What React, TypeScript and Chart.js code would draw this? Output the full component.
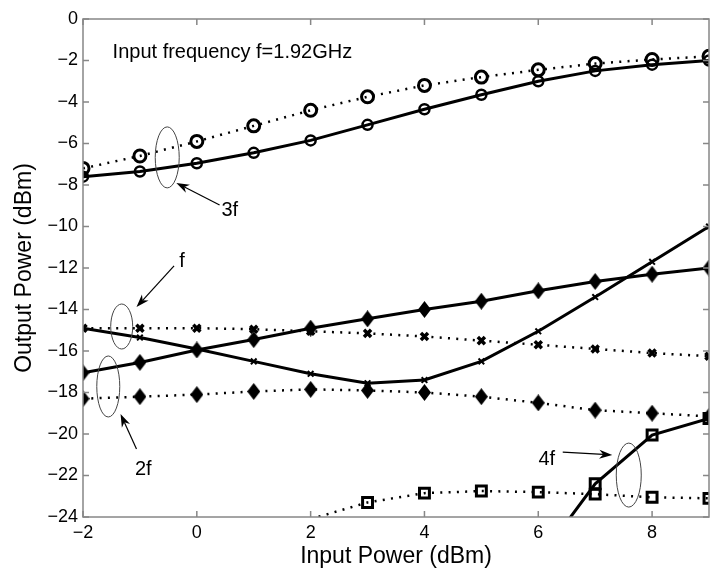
import { useEffect, useRef } from 'react';
import { Chart, registerables } from 'chart.js';

Chart.register(...registerables);

// ---- data ----
const inputPower = [-2, -1, 0, 1, 2, 3, 4, 5, 6, 7, 8, 9];
const thirdDotted = [-7.2, -6.6, -5.9, -5.15, -4.4, -3.75, -3.2, -2.8, -2.45, -2.15, -1.95, -1.8];
const thirdSolid = [-7.6, -7.35, -6.95, -6.45, -5.85, -5.1, -4.35, -3.65, -3.0, -2.5, -2.2, -2.0];
const fundDotted = [-14.9, -14.9, -14.9, -14.95, -15.05, -15.15, -15.3, -15.5, -15.7, -15.9, -16.1, -16.25];
const fundSolid = [-14.9, -15.35, -15.9, -16.5, -17.1, -17.55, -17.4, -16.5, -15.05, -13.4, -11.7, -10.0];
const secondSolid = [-17.05, -16.55, -15.95, -15.45, -14.9, -14.45, -14.0, -13.6, -13.1, -12.65, -12.3, -12.0];
const secondDotted = [-18.3, -18.2, -18.1, -17.95, -17.85, -17.9, -18.0, -18.2, -18.5, -18.85, -19.0, -19.15];
const fourthDottedX = [2, 3, 4, 5, 6, 7, 8, 9];
const fourthDotted = [-24.1, -23.3, -22.85, -22.75, -22.8, -22.9, -23.05, -23.1];
const fourthSolidX = [6, 7, 8, 9];
const fourthSolid = [-26.1, -22.4, -20.05, -19.25];

const xRange = [-2, 9];
const yRange = [-24, 0];
const xTicks = [-2, 0, 2, 4, 6, 8];
const yTicks = [0, -2, -4, -6, -8, -10, -12, -14, -16, -18, -20, -22, -24];

const xTitle = 'Input Power (dBm)';
const yTitle = 'Output Power (dBm)';
const noteText = 'Input frequency f=1.92GHz';
const noteAt = [-1.48, -1.59];

// annotation groups (data coordinates)
const groupNames = ['3f', 'f', '2f', '4f'];
const labelAt = [[0.58, -9.25], [-0.26, -11.71], [-0.94, -21.73], [6.15, -21.25]];
const ellipseAt = [[-0.52, -6.67], [-1.32, -14.82], [-1.556, -17.71], [7.59, -21.98]];
const ellipseSize = [[12, 30.5], [11, 22.5], [11.5, 30.5], [12.5, 32]];
const arrowFrom = [[0.40, -8.96], [-0.40, -11.90], [-1.06, -20.72], [6.43, -20.87]];
const arrowTo = [[-0.36, -7.90], [-1.06, -13.88], [-1.34, -19.04], [7.30, -21.01]];

const FONT = "'Liberation Sans', Arial, Helvetica, sans-serif";

function pts(xs: number[], ys: number[]) {
  return xs.map((x, i) => ({ x, y: ys[i] }));
}

function makeDiamond(w: number, h: number) {
  const c = document.createElement('canvas');
  c.width = w;
  c.height = h;
  const g = c.getContext('2d')!;
  g.fillStyle = '#000';
  g.beginPath();
  g.moveTo(w / 2, 0);
  g.lineTo(w, h / 2);
  g.lineTo(w / 2, h);
  g.lineTo(0, h / 2);
  g.closePath();
  g.fill();
  return c;
}

function drawArrow(ctx: CanvasRenderingContext2D, x0: number, y0: number, x1: number, y1: number) {
  const ang = Math.atan2(y1 - y0, x1 - x0);
  const L = 13;
  const W = 4.5;
  ctx.beginPath();
  ctx.moveTo(x0, y0);
  ctx.lineTo(x1 - Math.cos(ang) * L * 0.7, y1 - Math.sin(ang) * L * 0.7);
  ctx.stroke();
  ctx.save();
  ctx.translate(x1, y1);
  ctx.rotate(ang);
  ctx.beginPath();
  ctx.moveTo(0, 0);
  ctx.lineTo(-L, -W);
  ctx.lineTo(-L * 0.7, 0);
  ctx.lineTo(-L, W);
  ctx.closePath();
  ctx.fill();
  ctx.restore();
}

const decor = {
  id: 'decor',
  afterDatasetsDraw(chart: any) {
    const { ctx, chartArea: a, scales } = chart;
    const x = scales.x;
    const y = scales.y;
    const px = (v: number) => x.getPixelForValue(v);
    const py = (v: number) => y.getPixelForValue(v);
    ctx.save();
    // axes box and inward ticks
    ctx.strokeStyle = '#878787';
    ctx.lineWidth = 1.5;
    ctx.strokeRect(a.left, a.top, a.right - a.left, a.bottom - a.top);
    ctx.beginPath();
    for (const v of xTicks) {
      const p = px(v);
      ctx.moveTo(p, a.bottom);
      ctx.lineTo(p, a.bottom - 6);
      ctx.moveTo(p, a.top);
      ctx.lineTo(p, a.top + 6);
    }
    for (const v of yTicks) {
      const p = py(v);
      ctx.moveTo(a.left, p);
      ctx.lineTo(a.left + 6, p);
      ctx.moveTo(a.right, p);
      ctx.lineTo(a.right - 6, p);
    }
    ctx.stroke();

    // note text
    ctx.fillStyle = '#000';
    ctx.font = `20px ${FONT}`;
    ctx.textAlign = 'left';
    ctx.textBaseline = 'middle';
    ctx.fillText(noteText, px(noteAt[0]), py(noteAt[1]));

    // ellipses
    ctx.strokeStyle = '#444';
    ctx.lineWidth = 1;
    ellipseAt.forEach((e, i) => {
      ctx.beginPath();
      ctx.ellipse(px(e[0]), py(e[1]), ellipseSize[i][0], ellipseSize[i][1], 0, 0, Math.PI * 2);
      ctx.stroke();
    });

    // arrows
    ctx.strokeStyle = '#000';
    ctx.fillStyle = '#000';
    ctx.lineWidth = 1.2;
    arrowFrom.forEach((f, i) => {
      drawArrow(ctx, px(f[0]), py(f[1]), px(arrowTo[i][0]), py(arrowTo[i][1]));
    });

    // labels
    ctx.font = `20px ${FONT}`;
    ctx.textAlign = 'center';
    ctx.textBaseline = 'middle';
    groupNames.forEach((n, i) => {
      ctx.fillText(n, px(labelAt[i][0]), py(labelAt[i][1]));
    });
    ctx.restore();
  },
};

const fmt = (v: number) => (v < 0 ? '\u2212' + Math.abs(v) : String(v));

export default function App() {
  const ref = useRef<HTMLCanvasElement | null>(null);

  useEffect(() => {
    if (!ref.current) return;
    const diamond = makeDiamond(13, 17);
    const hideOut = (r: number) => (c: any) => {
      const v = c.raw && typeof c.raw.y === 'number' ? c.raw.y : 0;
      return v < yRange[0] || v > yRange[1] ? 0 : r;
    };
    const dotted = { borderColor: '#000', borderWidth: 2.5, borderDash: [2, 6.3], borderCapStyle: 'butt', tension: 0 };
    const solid = { borderColor: '#000', borderWidth: 3, tension: 0 };

    const chart = new Chart(ref.current, {
      type: 'line',
      data: {
        datasets: [
          { ...dotted, data: pts(inputPower, thirdDotted), pointStyle: 'circle', pointRadius: 6, pointBorderWidth: 3, pointBorderColor: '#000', pointBackgroundColor: 'rgba(0,0,0,0)' },
          { ...solid, data: pts(inputPower, thirdSolid), pointStyle: 'circle', pointRadius: 5, pointBorderWidth: 2.5, pointBorderColor: '#000', pointBackgroundColor: 'rgba(0,0,0,0)' },
          { ...dotted, data: pts(inputPower, fundDotted), pointStyle: 'crossRot', pointRadius: 5, pointBorderWidth: 3.5, pointBorderColor: '#000' },
          { ...solid, data: pts(inputPower, fundSolid), pointStyle: 'crossRot', pointRadius: 4, pointBorderWidth: 2, pointBorderColor: '#000' },
          { ...solid, data: pts(inputPower, secondSolid), pointStyle: diamond, pointRadius: 8 },
          { ...dotted, data: pts(inputPower, secondDotted), pointStyle: diamond, pointRadius: 8 },
          { ...dotted, data: pts(fourthDottedX, fourthDotted), pointStyle: 'rect', pointRadius: hideOut(7), pointBorderWidth: 3, pointBorderColor: '#000', pointBackgroundColor: 'rgba(0,0,0,0)' },
          { ...solid, data: pts(fourthSolidX, fourthSolid), pointStyle: 'rect', pointRadius: hideOut(7), pointBorderWidth: 3, pointBorderColor: '#000', pointBackgroundColor: 'rgba(0,0,0,0)' },
        ] as any,
      },
      options: {
        responsive: false,
        animation: false,
        devicePixelRatio: 1,
        layout: { padding: { left: 0, top: 19, right: 5.6, bottom: 0 } },
        plugins: { legend: { display: false }, tooltip: { enabled: false } },
        elements: { point: { hoverRadius: 0 } },
        scales: {
          x: {
            type: 'linear',
            min: xRange[0],
            max: xRange[1],
            afterBuildTicks: (s: any) => { s.ticks = xTicks.map((v) => ({ value: v })); },
            afterFit: (s: any) => { s.height = 53; },
            grid: { display: false, drawTicks: false },
            border: { display: false },
            ticks: { color: '#000', font: { size: 18, family: FONT }, padding: 5, maxRotation: 0, callback: (v: any) => fmt(Number(v)) },
            title: { display: true, text: xTitle, color: '#000', font: { size: 23, family: FONT }, padding: { top: 0, bottom: 0 } },
          },
          y: {
            type: 'linear',
            min: yRange[0],
            max: yRange[1],
            afterBuildTicks: (s: any) => { s.ticks = yTicks.map((v) => ({ value: v })); },
            afterFit: (s: any) => { s.width = 83; },
            grid: { display: false, drawTicks: false },
            border: { display: false },
            ticks: { color: '#000', font: { size: 18, family: FONT }, padding: 5, callback: (v: any) => fmt(Number(v)) },
            title: { display: true, text: yTitle, color: '#000', font: { size: 23, family: FONT }, padding: { top: 11, bottom: 0 } },
          },
        },
      } as any,
      plugins: [decor],
    });
    return () => chart.destroy();
  }, []);

  return (
    <div style={{ position: 'fixed', left: 0, top: 0, width: 714, height: 570, overflow: 'hidden', background: '#fff' }}>
      <canvas ref={ref} width={720} height={570} style={{ display: 'block' }} />
    </div>
  );
}
